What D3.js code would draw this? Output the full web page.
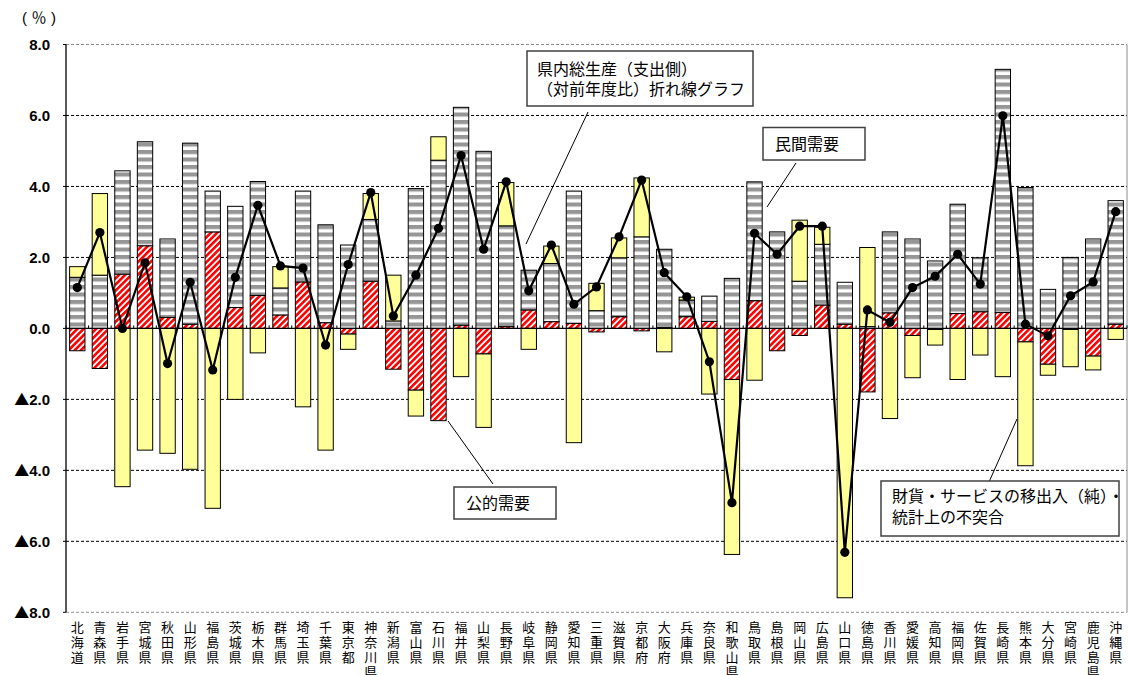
<!DOCTYPE html>
<html><head><meta charset="utf-8">
<script src="https://cdn.jsdelivr.net/npm/d3@7"></script>
<style>
html,body{margin:0;padding:0;background:#fff;}
svg{display:block;}
</style></head>
<body>
<svg id="chart" width="1129" height="675"></svg>
<script>
const prefectures = ["北海道","青森県","岩手県","宮城県","秋田県","山形県","福島県","茨城県","栃木県","群馬県","埼玉県","千葉県","東京都","神奈川県","新潟県","富山県","石川県","福井県","山梨県","長野県","岐阜県","静岡県","愛知県","三重県","滋賀県","京都府","大阪府","兵庫県","奈良県","和歌山県","鳥取県","島根県","岡山県","広島県","山口県","徳島県","香川県","愛媛県","高知県","福岡県","佐賀県","長崎県","熊本県","大分県","宮崎県","鹿児島県","沖縄県"];
// 公的需要 (寄与度)
const publicDemand = [-0.63,-1.13,1.53,2.33,0.31,0.12,2.72,0.59,0.93,0.38,1.31,0.16,-0.16,1.33,-1.15,-1.74,-2.60,0.09,-0.72,0.05,0.52,0.19,0.14,-0.10,0.33,-0.07,0.03,0.33,0.20,-1.44,0.78,-0.63,-0.20,0.66,0.12,-1.79,0.44,-0.20,-0.03,0.42,0.47,0.45,-0.38,-1.01,-0.03,-0.78,0.12];
// 民間需要
const privateDemand = [1.44,1.50,2.91,2.93,2.21,5.10,1.15,2.85,3.21,0.76,2.56,2.76,2.35,1.74,0.21,3.94,4.74,6.14,4.99,2.84,1.12,1.64,3.73,0.50,1.66,2.58,2.20,0.47,0.71,1.41,3.35,2.72,1.33,1.71,1.18,0.05,2.28,2.52,1.90,3.08,1.52,6.85,3.97,1.10,2.00,2.52,3.48];
// 財貨・サービスの移出入(純)・統計上の不突合
const netExports = [0.30,2.30,-4.46,-3.43,-3.52,-3.97,-5.07,-2.00,-0.69,0.60,-2.21,-3.43,-0.43,0.73,1.29,-0.73,0.66,-1.36,-2.07,1.22,-0.59,0.49,-3.22,0.77,0.56,1.66,-0.66,0.08,-1.85,-4.93,-1.46,0.00,1.72,0.48,-7.59,2.23,-2.54,-1.19,-0.44,-1.44,-0.75,-1.36,-3.49,-0.31,-1.05,-0.39,-0.31];
// 県内総生産(支出側) 対前年度比
const gdpGrowth = [1.15,2.70,0.00,1.85,-0.99,1.30,-1.17,1.44,3.47,1.76,1.70,-0.47,1.80,3.83,0.35,1.50,2.82,4.87,2.23,4.13,1.06,2.35,0.68,1.17,2.58,4.18,1.57,0.89,-0.94,-4.91,2.68,2.09,2.88,2.88,-6.31,0.52,0.17,1.15,1.47,2.09,1.25,5.99,0.12,-0.21,0.92,1.31,3.29];
const yTicks = [8,6,4,2,0,-2,-4,-6,-8];

const svg = d3.select("#chart");
const L = 66, R = 1127, T = 44.5, B = 612.3;
const JP = "'Noto Sans CJK JP', sans-serif";

const defs = svg.append("defs");
const pg = defs.append("pattern").attr("id","grayStripe").attr("patternUnits","userSpaceOnUse")
  .attr("width",8).attr("height",7.5);
pg.append("rect").attr("width",8).attr("height",7.5).attr("fill","#fff");
pg.append("rect").attr("width",8).attr("height",4.1).attr("fill","#969696");
const pr = defs.append("pattern").attr("id","redHatch").attr("patternUnits","userSpaceOnUse")
  .attr("width",4.4).attr("height",8).attr("patternTransform","rotate(45)");
pr.append("rect").attr("width",4.4).attr("height",8).attr("fill","#fff");
pr.append("rect").attr("width",2.6).attr("height",8).attr("fill","#ff0000");

const x = d3.scaleBand().domain(prefectures).range([L,R]).paddingInner(0.32).paddingOuter(0.16);
const y = d3.scaleLinear().domain([-8,8]).range([B,T]);

// gridlines
svg.append("g").selectAll("line").data(yTicks.filter(v=>v!==0)).join("line")
  .attr("x1",L).attr("x2",R).attr("y1",d=>y(d)).attr("y2",d=>y(d))
  .attr("stroke",d=>Math.abs(d)===8?"#8c8c8c":"#000").attr("stroke-width",1)
  .attr("stroke-dasharray","3,2");

// stacked bars
const rows = prefectures.map((p,i)=>({pref:p, pub:publicDemand[i], priv:privateDemand[i], net:netExports[i]}));
const keys = ["pub","priv","net"];
const fills = {pub:"url(#redHatch)", priv:"url(#grayStripe)", net:"#ffff99"};
const series = d3.stack().keys(keys).offset(d3.stackOffsetDiverging)(rows);
svg.append("g").selectAll("g").data(series).join("g")
  .attr("fill",s=>fills[s.key])
  .selectAll("rect").data(s=>s.filter(d=>Math.abs(d[1]-d[0])>0.001)).join("rect")
  .attr("x",d=>x(d.data.pref)).attr("width",x.bandwidth())
  .attr("y",d=>y(Math.max(d[0],d[1]))).attr("height",d=>Math.abs(y(d[0])-y(d[1])))
  .attr("stroke","#000").attr("stroke-width",1);

// axes
svg.append("line").attr("x1",L).attr("x2",L).attr("y1",T).attr("y2",B).attr("stroke","#000").attr("stroke-width",1.3);
svg.append("line").attr("x1",R).attr("x2",R).attr("y1",T).attr("y2",B).attr("stroke","#8c8c8c").attr("stroke-width",1);
svg.append("line").attr("x1",L).attr("x2",R).attr("y1",y(0)).attr("y2",y(0)).attr("stroke","#000").attr("stroke-width",1.3);
// category tick marks on zero line
svg.append("g").selectAll("line").data(d3.range(prefectures.length+1)).join("line")
  .attr("x1",i=>L+i*x.step()).attr("x2",i=>L+i*x.step())
  .attr("y1",y(0)).attr("y2",y(0)-3).attr("stroke","#000").attr("stroke-width",1);
svg.append("g").selectAll("line").data(yTicks).join("line")
  .attr("x1",L-3).attr("x2",L).attr("y1",d=>y(d)).attr("y2",d=>y(d)).attr("stroke","#000");

// y labels
const yl = svg.append("g").selectAll("text").data(yTicks).join("text")
  .attr("x",50).attr("y",d=>y(d)).attr("dy","0.36em").attr("text-anchor","end")
  .attr("font-family","'Liberation Sans', Arial, sans-serif").attr("font-size",15).attr("font-weight","bold").attr("fill","#000");
yl.each(function(d){
  const t = d3.select(this);
  if (d<0){ t.append("tspan").attr("font-family",JP).attr("font-size",15).text("▲"); }
  t.append("tspan").text(Math.abs(d).toFixed(1));
});
// unit label （％）
const unit = svg.append("text").attr("y",23).attr("fill","#000").attr("font-size",15).attr("text-anchor","middle");
unit.append("tspan").attr("x",24.5).attr("font-family","'Liberation Sans', Arial, sans-serif").text("(");
unit.append("tspan").attr("x",39).attr("font-family",JP).attr("font-size",15).text("％");
unit.append("tspan").attr("x",53.5).attr("font-family","'Liberation Sans', Arial, sans-serif").text(")");

// x labels (vertical)
const xl = svg.append("g").selectAll("text").data(prefectures).join("text")
  .attr("font-family",JP).attr("font-size",13).attr("text-anchor","middle").attr("fill","#000");
xl.each(function(p){
  const t = d3.select(this), cx = x(p)+x.bandwidth()/2;
  [...p].forEach((c,k)=>t.append("tspan").attr("x",cx).attr("y",632+k*15).text(c));
});

// line
const pts = prefectures.map((p,i)=>[x(p)+x.bandwidth()/2, y(gdpGrowth[i])]);
svg.append("path").attr("d",d3.line()(pts)).attr("fill","none").attr("stroke","#000").attr("stroke-width",2.2);
svg.append("g").selectAll("circle").data(pts).join("circle")
  .attr("cx",d=>d[0]).attr("cy",d=>d[1]).attr("r",4.6).attr("fill","#000");

// callouts
function callout(bx,by,bw,bh,lines,tx,ty0,lh,lx1,ly1,lx2,ly2){
  svg.append("line").attr("x1",lx1).attr("y1",ly1).attr("x2",lx2).attr("y2",ly2).attr("stroke","#000").attr("stroke-width",1);
  svg.append("rect").attr("x",bx).attr("y",by).attr("width",bw).attr("height",bh)
    .attr("fill","#fff").attr("stroke","#404040").attr("stroke-width",1.5);
  const t = svg.append("text").attr("font-family",JP).attr("font-size",16).attr("fill","#000");
  lines.forEach((s,k)=>t.append("tspan").attr("x",tx).attr("y",ty0+k*lh).attr("dy","0.36em").text(s));
}
callout(527,51,226,55,["県内総生産（支出側）","（対前年度比）折れ線グラフ"],537,69,20,588,112,526,244);
callout(763,127.5,102,32.5,["民間需要"],775,144,0,796,163,767,207);
callout(454,487,102,32,["公的需要"],466,503,0,448,421,493,484);
callout(881,481,238,55,["財貨・サービスの移出入（純）・","統計上の不突合"],892,496,21.5,1017,419,989,482);
</script>
</body></html>
